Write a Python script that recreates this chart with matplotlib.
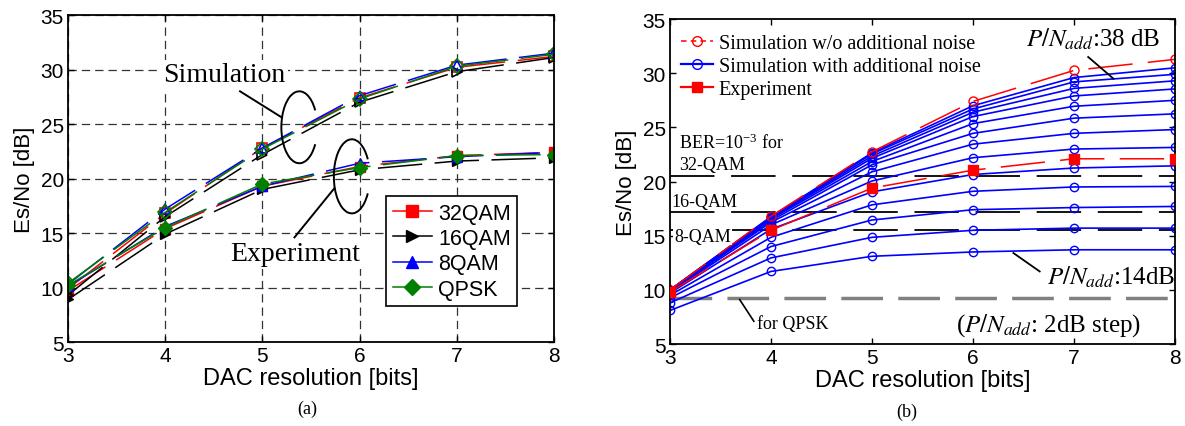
import numpy as np
import matplotlib
matplotlib.use("Agg")
import matplotlib.pyplot as plt
from matplotlib.patches import Arc
from matplotlib.lines import Line2D

plt.rcParams['font.family'] = ['Liberation Sans', 'DejaVu Sans']
plt.rcParams['mathtext.fontset'] = 'stix'
plt.rcParams['lines.scale_dashes'] = False

SERIF = ['Liberation Serif', 'DejaVu Serif']

# ---- datos panel (a) ----
bits = [3, 4, 5, 6, 7, 8]
formatos = ['32QAM', '16QAM', '8QAM', 'QPSK']
sim_32qam = [9.9, 16.8, 22.8, 27.4, 30.2, 31.2]
sim_16qam = [9.3, 16.5, 22.2, 27.0, 29.8, 31.1]
sim_8qam = [10.3, 17.2, 22.8, 27.6, 30.4, 31.5]
sim_qpsk = [10.4, 16.9, 22.7, 27.3, 30.3, 31.4]
exp_32qam = [9.7, 15.4, 19.3, 21.1, 22.1, 22.4]
exp_16qam = [8.9, 14.9, 19.0, 20.8, 21.6, 21.9]
exp_8qam = [10.1, 15.6, 19.3, 21.4, 22.0, 22.4]
exp_qpsk = [10.2, 15.5, 19.5, 21.0, 22.1, 22.2]

# ---- datos panel (b) ----
sim_sin_ruido = [10.0, 16.8, 22.75, 27.4, 30.26, 31.28]
experimento = [9.8, 15.5, 19.4, 21.05, 22.1, 22.1]
pn_add = [14, 16, 18, 20, 22, 24, 26, 28, 30, 32, 34, 36, 38]
sim_con_ruido = [
    [8.1, 11.7, 13.1, 13.5, 13.7, 13.7],
    [8.8, 12.95, 14.85, 15.5, 15.7, 15.7],
    [9.25, 14.0, 16.45, 17.4, 17.6, 17.7],
    [9.5, 14.85, 17.85, 19.1, 19.5, 19.55],
    [9.7, 15.6, 19.05, 20.65, 21.25, 21.45],
    [9.8, 16.0, 20.05, 22.2, 23.0, 23.15],
    [9.87, 16.25, 20.9, 23.45, 24.45, 24.8],
    [9.92, 16.4, 21.55, 24.45, 25.85, 26.25],
    [9.95, 16.55, 21.85, 25.35, 26.95, 27.5],
    [9.97, 16.62, 22.15, 26.0, 27.9, 28.55],
    [9.98, 16.68, 22.35, 26.4, 28.6, 29.3],
    [10.0, 16.72, 22.55, 26.7, 29.2, 29.9],
    [10.0, 16.75, 22.65, 27.0, 29.6, 30.5],
]
umbral_ber = [20.48, 17.15, 15.52]   # 32-QAM, 16-QAM, 8-QAM
umbral_qpsk = 9.24

fig = plt.figure(figsize=(11.85, 4.27), dpi=100)
ax1 = fig.add_axes([0.0574, 0.1967, 0.4101, 0.7658])
ax2 = fig.add_axes([0.5654, 0.192, 0.4262, 0.761])

# ---- panel (a) ----
colores = ['#ff0000', '#000000', '#0000ff', '#007f00']
marcadores = ['s', '>', '^', 'D']
sims = [sim_32qam, sim_16qam, sim_8qam, sim_qpsk]
exps = [exp_32qam, exp_16qam, exp_8qam, exp_qpsk]
guion = (0, (32, 9))

for c, m, s, e, nombre in zip(colores, marcadores, sims, exps, formatos):
    ax1.plot(bits, s, color=c, marker=m, mfc='none', mec=c, ms=7, mew=1.2,
             lw=1.1, linestyle=guion)
    ax1.plot(bits, e, color=c, marker=m, mfc=c, mec=c, ms=7,
             lw=1.1, linestyle=guion)

manijas = [Line2D([], [], color=c, marker=m, mfc=c, ms=8, lw=1.1)
           for c, m in zip(colores, marcadores)]
leg = ax1.legend(manijas, formatos, loc='lower left', bbox_to_anchor=(0.655, 0.11),
                 fontsize=15.5, frameon=True, fancybox=False, edgecolor='black',
                 framealpha=1, handlelength=1.8, handletextpad=0.3,
                 labelspacing=0.2, borderpad=0.3, borderaxespad=0)
leg.get_frame().set_linewidth(1.2)
leg.set_zorder(10)

ax1.grid(True, linestyle=(0, (6, 3.6)), color='#333333', lw=0.9)
ax1.set_axisbelow(True)

ax1.text(3.98, 29.5, 'Simulation', family=SERIF, fontsize=20, va='center',
         ha='left', bbox=dict(facecolor='white', edgecolor='none', pad=2), zorder=5)
ax1.text(4.67, 13.1, 'Experiment', family=SERIF, fontsize=20, va='center',
         ha='left', bbox=dict(facecolor='white', edgecolor='none', pad=2), zorder=5)
# llaves "(" que agrupan las curvas
ax1.add_patch(Arc((5.38, 24.7), 0.37, 6.6, theta1=84, theta2=276, color='black', lw=1.4, zorder=6))
ax1.add_patch(Arc((5.92, 20.2), 0.37, 6.8, theta1=84, theta2=276, color='black', lw=1.4, zorder=6))
ax1.plot([4.77, 5.2], [28.0, 25.6], color='black', lw=1.4, zorder=6)
ax1.plot([5.33, 5.74], [14.6, 19.1], color='black', lw=1.4, zorder=6)

ax1.set_xlim(3, 8)
ax1.set_ylim(5, 35)
ax1.set_xlabel('DAC resolution [bits]', fontsize=17, labelpad=1)
ax1.set_ylabel('Es/No [dB]', fontsize=16, labelpad=4)

# ---- panel (b) ----
for curva in sim_con_ruido:
    ax2.plot(bits, curva, color='#0000ff', marker='o', mfc='none', mec='#0000ff',
             ms=6, mew=1.0, lw=1.2)
ax2.plot(bits, sim_sin_ruido, color='#ff0000', marker='o', mfc='none', mec='#ff0000',
         ms=6.5, mew=1.0, lw=1.1, linestyle=(0, (32, 11)))
ax2.plot(bits, experimento, color='#ff0000', marker='s', mfc='#ff0000', mec='#ff0000',
         ms=6.5, lw=1.1, linestyle=(0, (32, 11)), zorder=4)

for u in umbral_ber:
    ax2.axhline(u, color='black', lw=1.3, linestyle=(0, (32, 12)), zorder=1)
ax2.axhline(umbral_qpsk, color='#808080', lw=2.5, linestyle=(0, (30, 11)), zorder=1)

h_sin = Line2D([], [], color='#ff0000', marker='o', mfc='none', ms=7, lw=1.1,
               linestyle=(0, (4, 3)))
h_con = Line2D([], [], color='#0000ff', marker='o', mfc='none', ms=7, lw=1.6)
h_exp = Line2D([], [], color='#ff0000', marker='s', mfc='#ff0000', ms=7, lw=1.6)
ax2.legend([h_sin, h_con, h_exp],
           ['Simulation w/o additional noise', 'Simulation with additional noise',
            'Experiment'],
           loc='upper left', bbox_to_anchor=(-0.015, 1.01), frameon=False,
           prop={'family': SERIF, 'size': 14.5}, handlelength=1.6,
           handletextpad=0.3, labelspacing=0.2)

ax2.text(3.09, 23.6, 'BER=10$^{\\mathregular{-3}}$ for', family=SERIF, fontsize=13,
         va='center', ha='left')
ax2.text(3.09, 21.6, '32-QAM', family=SERIF, fontsize=13, va='center', ha='left')
ax2.text(3.01, 18.2, '16-QAM', family=SERIF, fontsize=13, va='center', ha='left')
ax2.text(3.04, 14.95, '8-QAM', family=SERIF, fontsize=13, va='center', ha='left',
         bbox=dict(facecolor='white', edgecolor='none', pad=0.5))
ax2.text(3.86, 6.9, 'for QPSK', family=SERIF, fontsize=13, va='center', ha='left')
ax2.plot([3.69, 3.83], [9.1, 7.1], color='black', lw=1.2)

ax2.text(7.86, 32.5, '$P/N_{add}$:38 dB', family=SERIF, fontsize=18,
         va='baseline', ha='right')
ax2.plot([7.14, 7.39], [31.5, 29.5], color='black', lw=1.3)
ax2.text(8.0, 10.55, '$P/N_{add}$:14dB', family=SERIF, fontsize=18,
         va='baseline', ha='right')
ax2.plot([6.4, 6.66], [13.4, 11.7], color='black', lw=1.3)
ax2.text(7.67, 6.2, '($P/N_{add}$: 2dB step)', family=SERIF, fontsize=18,
         va='baseline', ha='right')

ax2.set_xlim(3, 8)
ax2.set_ylim(5, 35)
ax2.set_xlabel('DAC resolution [bits]', fontsize=17, labelpad=1)
ax2.set_ylabel('Es/No [dB]', fontsize=16, labelpad=4)

for ax in (ax1, ax2):
    ax.set_xticks(bits)
    ax.set_yticks([5, 10, 15, 20, 25, 30, 35])
    ax.tick_params(direction='in', top=True, right=True, length=4, width=1,
                   labelsize=15, pad=3)
    for sp in ax.spines.values():
        sp.set_linewidth(1.3)

fig.text(0.259, 0.042, '(a)', family=SERIF, fontsize=13, ha='center', va='center')
fig.text(0.765, 0.035, '(b)', family=SERIF, fontsize=13, ha='center', va='center')

fig.savefig('out.png', dpi=100)
